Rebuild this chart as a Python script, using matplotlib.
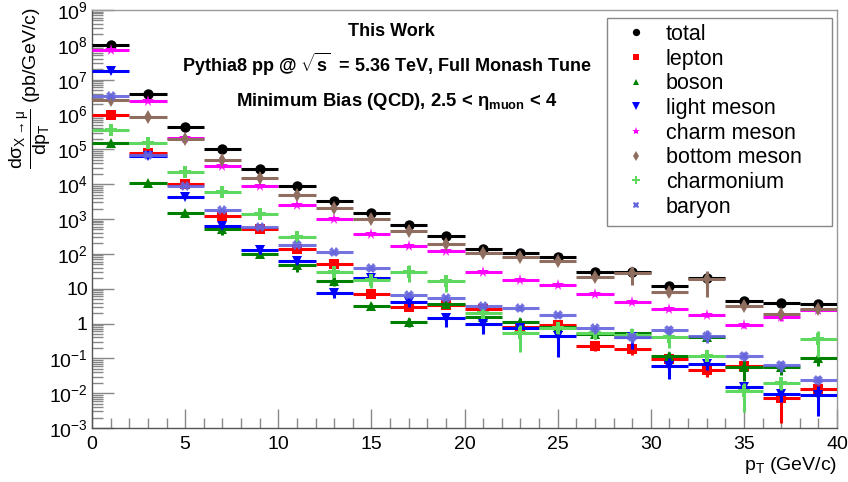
import numpy as np
import matplotlib
matplotlib.use("Agg")
import matplotlib.pyplot as plt
from matplotlib.patches import Rectangle
from matplotlib.ticker import FixedLocator, FuncFormatter, LogLocator, NullFormatter

plt.rcParams['font.family'] = ['Liberation Sans', 'DejaVu Sans']
plt.rcParams['mathtext.fontset'] = 'custom'
plt.rcParams['mathtext.rm'] = 'Liberation Sans'
plt.rcParams['mathtext.it'] = 'Liberation Sans'
plt.rcParams['mathtext.bf'] = 'Liberation Sans:bold'
plt.rcParams['mathtext.sf'] = 'Liberation Sans'

# ---- data ----
pt = [1, 3, 5, 7, 9, 11, 13, 15, 17, 19, 21, 23, 25, 27, 29, 31, 33, 35, 37, 39]
pt_halfwidth = 1.0

total = [1.0e8, 3.8e6, 4.5e5, 1.0e5, 2.67e4, 8.7e3, 3.2e3, 1.5e3, 670, 330,
         140, 103, 83, 30.7, 31, 11.9, 19.8, 4.4, 3.95, 3.55]
lepton = [1.0e6, 8.0e4, 1.0e4, 1.2e3, 525, 138, 51, 7.0, 3.0, 3.3,
          2.65, 0.78, 0.9, 0.225, 0.19, 0.098, 0.046, 0.06, 0.0071, 0.013]
boson = [1.5e5, 1.1e4, 1.45e3, 530, 100, 47, 16.6, 3.2, 1.1, 3.55,
         1.56, 1.1, 0.81, 0.5, 0.52, 0.117, 0.42, 0.057, 0.057, 0.1]
light_meson = [1.8e7, 6.5e4, 4.4e3, 630, 125, 63, 7.3, 20, 4.2, 1.4,
               1.0, 0.75, 0.45, np.nan, 0.42, 0.062, 0.068, 0.0153, 0.0093, 0.0089]
charm_meson = [7.0e7, 2.5e6, 2.1e5, 3.4e4, 8.9e3, 2.6e3, 980, 380, 171, 117,
               31, 18, 12.5, 7.0, 4.05, 2.6, 1.75, 0.9, 1.55, 2.4]
bottom_meson = [2.55e6, 8.6e5, 2.0e5, 4.9e4, 1.5e4, 5.0e3, 2.07e3, 1.0e3, 450, 186,
                103, 83, 63, 22, 27.6, 7.8, 19, 3.25, 1.87, 2.55]
charmonium = [3.6e5, 1.55e5, 2.2e4, 5.8e3, 1.42e3, 300, 31, 18, 31, 16.5,
              1.95, 0.52, 0.76, 0.54, 0.47, 0.4, 0.12, 0.0115, 0.019, 0.36]
baryon = [3.3e6, 6.9e4, 9.0e3, 1.8e3, 600, 175, 110, 39, 6.6, 5.5,
          3.2, 2.8, 1.75, 0.72, 0.4, 0.65, 0.45, 0.116, 0.064, 0.024]

# relative statistical uncertainties
rel_total = [0.01, 0.01, 0.01, 0.02, 0.02, 0.03, 0.03, 0.05, 0.05, 0.05,
             0.08, 0.08, 0.1, 0.1, 0.3, 0.15, 0.45, 0.15, 0.1, 0.1]
rel_lepton = [0.02, 0.03, 0.05, 0.1, 0.1, 0.15, 0.15, 0.2, 0.25, 0.2,
              0.2, 0.3, 0.3, 0.3, 0.35, 0.35, 0.35, 0.3, 0.8, 0.3]
rel_boson = [0.02, 0.05, 0.1, 0.35, 0.2, 0.35, 0.3, 0.2, 0.3, 0.2,
             0.2, 0.3, 0.3, 0.3, 0.3, 0.3, 0.3, 0.6, 0.4, 0.4]
rel_light = [0.02, 0.05, 0.1, 0.15, 0.2, 0.2, 0.25, 0.45, 0.3, 0.45,
             0.5, 0.35, 0.75, 0.3, 0.55, 0.6, 0.3, 0.3, 0.4, 0.75]
rel_charm = [0.01, 0.02, 0.02, 0.03, 0.03, 0.05, 0.05, 0.05, 0.05, 0.05,
             0.08, 0.08, 0.08, 0.1, 0.1, 0.1, 0.1, 0.15, 0.25, 0.15]
rel_bottom = [0.02, 0.03, 0.05, 0.05, 0.05, 0.05, 0.05, 0.05, 0.08, 0.08,
              0.1, 0.15, 0.2, 0.15, 0.55, 0.2, 0.7, 0.2, 0.2, 0.2]
rel_charmonium = [0.03, 0.05, 0.1, 0.1, 0.1, 0.2, 0.3, 0.4, 0.5, 0.5,
                  0.25, 0.7, 0.35, 0.3, 0.3, 0.5, 0.3, 0.75, 0.35, 0.7]
rel_baryon = [0.02, 0.05, 0.05, 0.1, 0.1, 0.1, 0.15, 0.2, 0.2, 0.2,
              0.2, 0.2, 0.2, 0.3, 0.3, 0.3, 0.4, 0.3, 0.35, 0.3]

labels = ['total', 'lepton', 'boson', 'light meson', 'charm meson',
          'bottom meson', 'charmonium', 'baryon']
series = [total, lepton, boson, light_meson, charm_meson, bottom_meson, charmonium, baryon]
rels = [rel_total, rel_lepton, rel_boson, rel_light, rel_charm, rel_bottom,
        rel_charmonium, rel_baryon]
colors = ['#000000', '#ff0000', '#008000', '#0000ff', '#ff00ff',
          '#8f6e60', '#5ed85e', '#6565dd']
markers = ['o', 's', '^', 'v', '*', 'd', 'P', 'X']
msizes = [7.5, 7, 7, 7.5, 8.5, 7, 8, 7]

fig = plt.figure(figsize=(8.48, 4.82), dpi=100)
ax = fig.add_axes([92/848, 54/482, (837-92)/848, (472-54)/482])

for i, (lab, y, r, c, m, ms) in enumerate(zip(labels, series, rels, colors, markers, msizes)):
    y = np.array(y, dtype=float)
    yerr = y * np.array(r)
    ax.errorbar(pt, y, xerr=pt_halfwidth, yerr=yerr, fmt=m, color=c, ms=ms,
                mec=c, mew=0, elinewidth=2.2, capsize=0, zorder=3 + i,
                alpha=0.9 if i == 7 else 1.0)

ax.set_yscale('log')
ax.set_xlim(0, 40)
ax.set_ylim(1e-3, 1e9)

ax.xaxis.set_major_locator(FixedLocator([0, 5, 10, 15, 20, 25, 30, 35, 40]))
ax.xaxis.set_minor_locator(FixedLocator(list(range(0, 41))))
ax.yaxis.set_major_locator(FixedLocator([10.0**k for k in range(-3, 10)]))
ax.yaxis.set_minor_locator(LogLocator(base=10, subs=np.arange(2, 10), numticks=50))
ax.yaxis.set_minor_formatter(NullFormatter())


def yfmt(v, pos):
    k = int(round(np.log10(v)))
    if k == 0:
        return '1'
    if k == 1:
        return '10'
    return r'$10^{%d}$' % k


ax.yaxis.set_major_formatter(FuncFormatter(yfmt))
ax.tick_params(which='both', direction='in', color='#888888', width=1,
               top=False, right=False, labelsize=14)
ax.tick_params(axis='y', which='major', length=16, pad=3)
ax.tick_params(axis='y', which='minor', length=8)
ax.tick_params(axis='x', which='major', length=14, pad=6)
ax.tick_params(axis='x', which='minor', length=7)
for s in ax.spines.values():
    s.set_color('#999999')
    s.set_linewidth(1)
ax.spines['left'].set_color('#555555')
ax.spines['bottom'].set_color('#555555')

# Axis titles
fig.text(837/848, 1 - 465/482, r'p$_{\rm T}$ (GeV/c)', ha='right', va='center', fontsize=14)
fig.text(30/848, 1 - 8/482,
         r'$\dfrac{d\sigma_{X\rightarrow\mu}}{dp_{T}}$ (pb/GeV/c)',
         rotation=90, ha='center', va='top', fontsize=14)

# Annotations
fig.text(391/848, 1 - 32/482, 'This Work', ha='center', va='center',
         fontsize=13, fontweight='bold')
fig.text(387/848, 1 - 64/482,
         r'Pythia8 pp @ $\mathbf{\sqrt{s}}$  = 5.36 TeV, Full Monash Tune',
         ha='center', va='center', fontsize=13, fontweight='bold')
fig.text(397/848, 1 - 101/482,
         r'Minimum Bias (QCD), 2.5 < $\mathbf{\eta_{muon}}$ < 4',
         ha='center', va='center', fontsize=13.3, fontweight='bold')

# Legend (frame drawn separately, ROOT-like)
ax.add_patch(Rectangle((607/848, 1 - 226/482), (832-607)/848, (226-18)/482,
                       transform=fig.transFigure, facecolor='white', clip_on=False,
                       edgecolor='#888888', linewidth=1.0, zorder=19))
leg_handles = [plt.Line2D([], [], ls='none', marker=m, color=c, ms=ms * 0.7, mew=0)
               for m, c, ms in zip(markers, colors, msizes)]
leg = ax.legend(leg_handles, labels, loc='upper left',
                bbox_to_anchor=(625/848, 1 - 24/482), bbox_transform=fig.transFigure,
                fontsize=15.5, frameon=False, handlelength=1.0,
                handletextpad=0.9, labelspacing=0.17, borderpad=0,
                borderaxespad=0)
leg.set_zorder(20)

fig.savefig('out.png', dpi=100, facecolor='white')
